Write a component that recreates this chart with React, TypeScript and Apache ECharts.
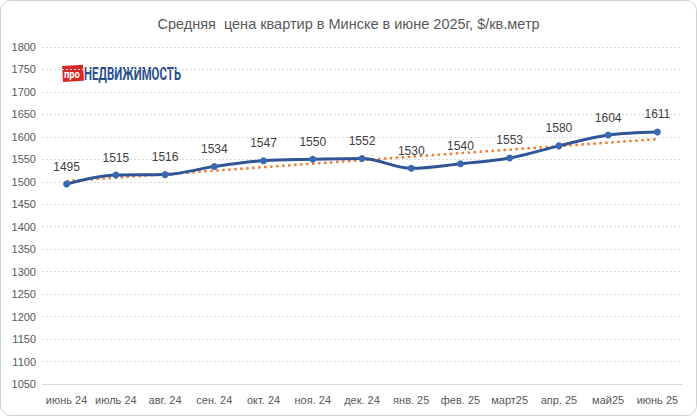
import React, { useEffect, useRef } from "react";
import * as echarts from "echarts";

const categories = ["июнь 24", "июль 24", "авг. 24", "сен. 24", "окт. 24", "ноя. 24", "дек. 24", "янв. 25", "фев. 25", "март25", "апр. 25", "май25", "июнь 25"];
const prices = [1495, 1515, 1516, 1534, 1547, 1550, 1552, 1530, 1540, 1553, 1580, 1604, 1611];
const trendEnds = [1501.4, 1595.0];
const yTicks = { min: 1050, max: 1800, interval: 50 };
const titleText = "Средняя  цена квартир в Минске в июне 2025г, $/кв.метр";

export default function App() {
  const ref = useRef<HTMLDivElement>(null);
  useEffect(() => {
    const chart = echarts.init(ref.current!, null, { renderer: "svg" });
    const font = "Liberation Sans";
    chart.setOption({
      animation: false,
      backgroundColor: "#ffffff",
      title: {
        text: titleText,
        left: "center",
        top: 11,
        textStyle: { fontFamily: font, fontSize: 14.5, fontWeight: "normal", color: "#595959" },
      },
      grid: { left: 42, right: 15, top: 47, bottom: 32, containLabel: false },
      xAxis: {
        type: "category",
        data: categories,
        boundaryGap: true,
        axisLine: { lineStyle: { color: "#d9d9d9" } },
        axisTick: { show: false },
        axisLabel: { fontFamily: font, fontSize: 11, color: "#595959", margin: 10, interval: 0 },
      },
      yAxis: {
        type: "value",
        min: yTicks.min,
        max: yTicks.max,
        interval: yTicks.interval,
        axisLine: { show: false },
        axisTick: { show: false },
        axisLabel: { fontFamily: font, fontSize: 11, color: "#595959", margin: 6, formatter: (v: number) => String(v) },
        splitLine: { lineStyle: { color: "#d9d9d9", type: [2, 2] } },
      },
      graphic: [
        {
          type: "rect",
          shape: { x: 0.5, y: 0.5, width: 696, height: 415, r: 10 },
          style: { fill: "none", stroke: "#d0d0d0", lineWidth: 1 },
          silent: true,
          z: 100,
        },
        {
          type: "group",
          x: 62,
          y: 65,
          children: [
            {
              type: "rect",
              shape: { x: 0, y: 1, width: 21, height: 16 },
              rotation: 0.06,
              style: { fill: "#d42a2a" },
            },
            {
              type: "text",
              x: 2,
              y: 4,
              scaleX: 0.85,
              style: { text: "про", fill: "#ffffff", font: "bold 11px Roboto" },
            },
            {
              type: "text",
              x: 22,
              y: -1,
              scaleX: 0.6,
              style: { text: "НЕДВИЖИМОСТЬ", fill: "#2b4f8c", font: "bold 19px Roboto" },
            },
          ],
        },
      ],
      series: [
        {
          type: "line",
          data: trendEnds.map((v, i) => [i === 0 ? 0 : categories.length - 1, v]),
          symbol: "none",
          lineStyle: { color: "#ed7d31", width: 2.5, type: [2.5, 3.5] },
          z: 2,
        },
        {
          type: "line",
          data: prices,
          smooth: 0.35,
          symbol: "circle",
          symbolSize: 7,
          itemStyle: { color: "#3a68b0" },
          lineStyle: { color: "#2f5597", width: 3 },
          label: {
            show: true,
            position: "top",
            distance: 8,
            fontFamily: font,
            fontSize: 12,
            color: "#404040",
          },
          z: 3,
        },
      ],
    });
    return () => chart.dispose();
  }, []);
  return <div ref={ref} style={{ position: "absolute", left: 0, top: 0, width: 697, height: 416 }} />;
}
